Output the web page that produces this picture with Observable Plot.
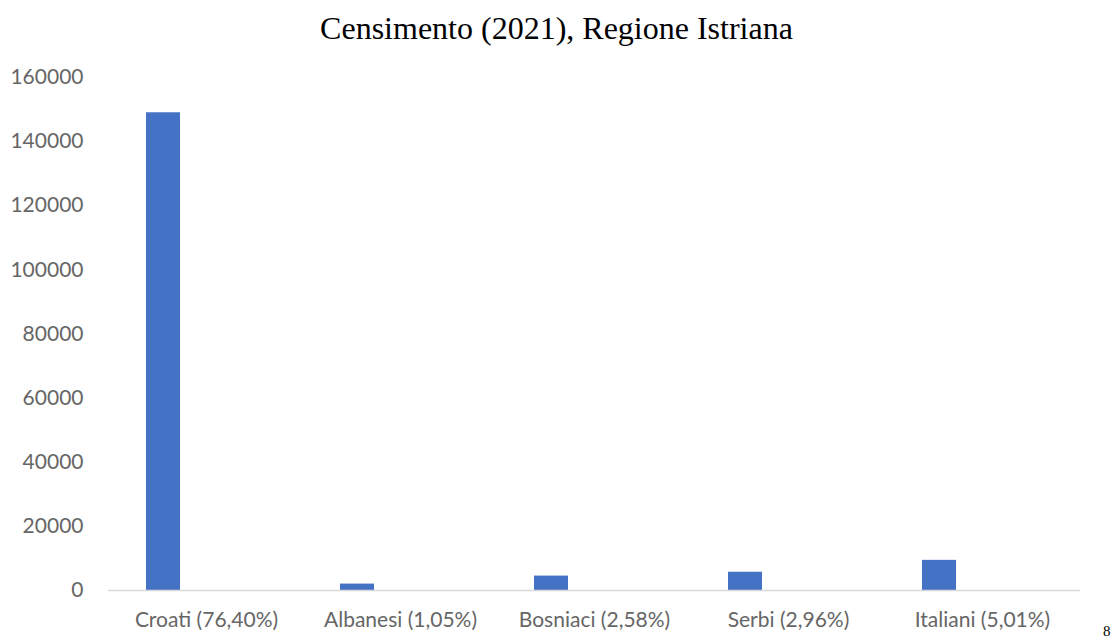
<!DOCTYPE html>
<html>
<head>
<meta charset="utf-8">
<script src="https://cdn.jsdelivr.net/npm/d3@7"></script>
<script src="https://cdn.jsdelivr.net/npm/@observablehq/plot@0.6"></script>
<style>
  html, body { margin: 0; padding: 0; background: #fff; width: 1113px; height: 643px; overflow: hidden; }
  #wrap { position: relative; width: 1113px; height: 643px; }
  #title { position: absolute; left: 0; top: 8px; width: 1113px; text-align: center;
           font-family: "Liberation Serif", "DejaVu Serif", serif; font-size: 32px; color: #000; line-height: 40px; }
  #chart { position: absolute; left: 0; top: 56px; }
  #note { position: absolute; left: 1103px; top: 622px; font-family: "Liberation Serif", serif; font-size: 15px; line-height: 18px; color: #000; }
</style>
</head>
<body>
<div id="wrap">
  <div id="title">Censimento (2021), Regione Istriana</div>
  <div id="chart"></div>
  <div id="note">8</div>
</div>
<script>
const categories = ["Croati (76,40%)", "Albanesi (1,05%)", "Bosniaci (2,58%)", "Serbi (2,96%)", "Italiani (5,01%)"];
const values = [149000, 2000, 4500, 5700, 9400];
const yTicks = [0, 20000, 40000, 60000, 80000, 100000, 120000, 140000, 160000];

const data = categories.map((c, i) => ({category: c, value: values[i]}));

const chart = Plot.plot({
  width: 1113,
  height: 587,
  marginTop: 21,
  marginBottom: 53,
  marginLeft: 108,
  marginRight: 33,
  style: {fontFamily: "Lato, 'Open Sans', sans-serif", fontSize: "21px", color: "#666666", background: "#fff", overflow: "visible"},
  x: {domain: categories, padding: 0, label: null, tickSize: 0, tickPadding: 22},
  y: {domain: [0, 160000], ticks: yTicks, tickFormat: d => String(d), label: null, tickSize: 0, tickPadding: 25},
  marks: [
    Plot.barY(data, {x: "category", y: "value", fill: "#4472C4", insetLeft: 37, insetRight: 123}),
    Plot.ruleY([0], {stroke: "#d9d9d9", strokeWidth: 1.5})
  ]
});
document.getElementById("chart").appendChild(chart);
</script>
</body>
</html>
